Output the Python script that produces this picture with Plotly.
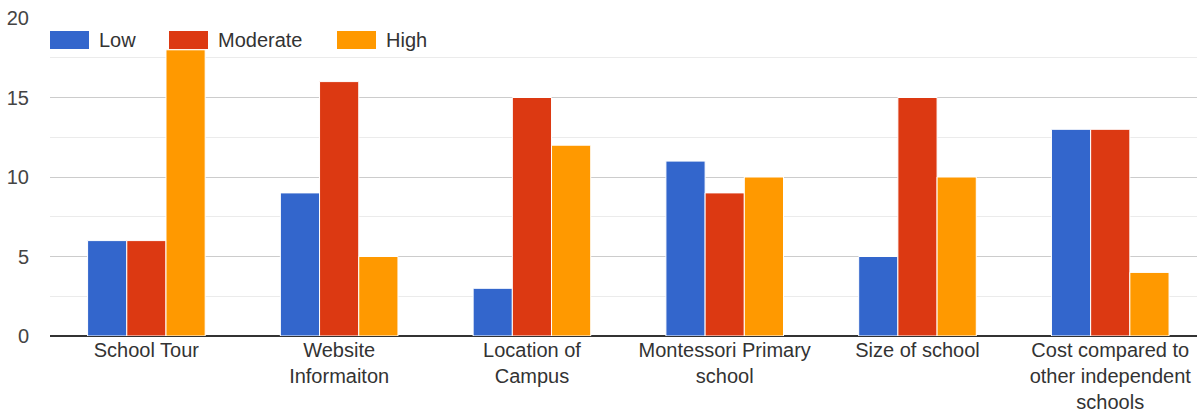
import plotly.graph_objects as go

categories = ["School Tour", "Website<br>Informaiton", "Location of<br>Campus",
              "Montessori Primary<br>school", "Size of school",
              "Cost compared to<br>other independent<br>schools"]
low = [6, 9, 3, 11, 5, 13]
moderate = [6, 16, 15, 9, 15, 13]
high = [18, 5, 12, 10, 10, 4]

series = [("Low", low, "#3366cc"), ("Moderate", moderate, "#dc3912"), ("High", high, "#ff9900")]

W, H = 1197, 414
ML, MR, MT, MB = 50, 0, 18, 78
PW, PH = W - ML - MR, H - MT - MB

def px2paper_x(px):
    return (px - ML) / PW

def px2paper_y(py):
    return 1 - (py - MT) / PH

fig = go.Figure()
for name, vals, color in series:
    fig.add_trace(go.Bar(x=list(range(len(categories))), y=vals, name=name, showlegend=False,
                         marker=dict(color=color, line=dict(color="white", width=1))))

# custom legend (wide swatches, like the original)
legend_x = [50, 169, 337]
for (name, vals, color), lx in zip(series, legend_x):
    fig.add_shape(type="rect", xref="paper", yref="paper",
                  x0=px2paper_x(lx), x1=px2paper_x(lx + 39),
                  y0=px2paper_y(49), y1=px2paper_y(31),
                  fillcolor=color, line=dict(width=0), layer="above")
    fig.add_annotation(xref="paper", yref="paper", x=px2paper_x(lx + 47), y=px2paper_y(40),
                       xanchor="left", yanchor="middle", text=name, showarrow=False,
                       font=dict(size=20, color="#333333"))

fig.update_layout(
    width=W, height=H,
    margin=dict(l=ML, r=MR, t=MT, b=MB),
    paper_bgcolor="white", plot_bgcolor="white",
    barmode="group", bargap=0.39, bargroupgap=0,
    font=dict(family="Arial, Liberation Sans, sans-serif", size=20, color="#444444"),
    showlegend=False,
)
fig.update_yaxes(range=[0, 20], dtick=5, showgrid=True, gridcolor="#cccccc", gridwidth=1,
                 minor=dict(dtick=2.5, showgrid=True, gridcolor="#ebebeb"),
                 zeroline=True, zerolinecolor="#333333", zerolinewidth=2,
                 ticks="", tickfont=dict(size=20, color="#444444"), ticklabelstandoff=20,
                 automargin=False)
fig.update_xaxes(range=[-0.5, 5.45], tickmode="array",
                 tickvals=list(range(len(categories))), ticktext=categories,
                 showgrid=False, ticks="", tickfont=dict(size=20, color="#333333"),
                 showline=False, automargin=False)

fig.write_html("out.html")
